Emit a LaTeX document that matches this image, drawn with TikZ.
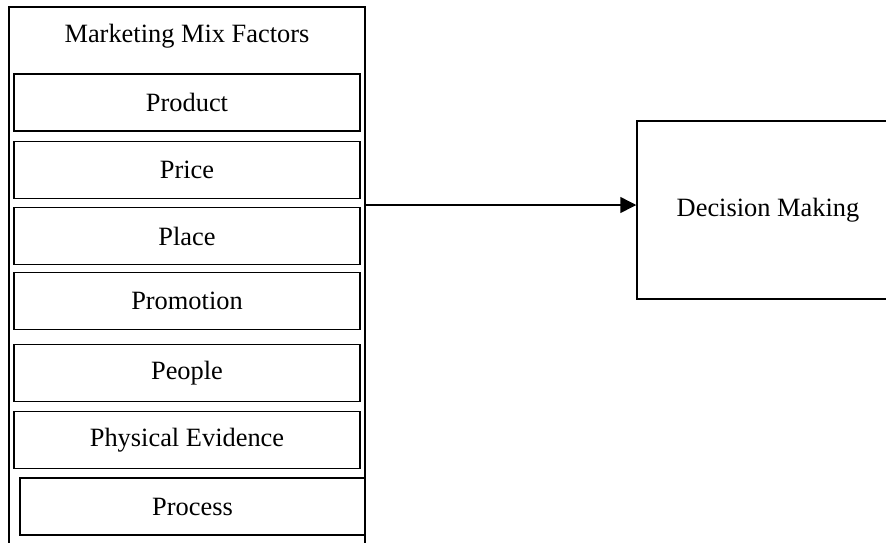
\documentclass[tikz,border=0pt]{standalone}
\usepackage{fontspec}
\setmainfont{Liberation Serif}
\usetikzlibrary{arrows.meta}

\begin{document}
\begin{tikzpicture}[x=0.5pt, y=-0.5pt, font=\fontsize{13.2}{16}\selectfont,
  frame/.style={draw=black, line width=0.75pt},
  factor/.style={draw=black, line width=0.75pt, minimum width=173pt,
                 minimum height=28.5pt, inner sep=0pt},
  title/.style={inner sep=0pt},
  arr/.style={draw=black, line width=0.75pt, -{Triangle[length=8pt, width=8pt]}}]

\useasboundingbox (0,0) rectangle (886,542);

% factors column
\draw[frame] (9,7) rectangle (365,560);
\node[title] (mixtitle) at (187,36) {Marketing Mix Factors};
\foreach \n/\y/\t in {product/102.5/Product, price/170/Price, place/236/Place,
                      promotion/301/Promotion, people/373/People,
                      physical/440/Physical Evidence}{
  \node[factor] (\n) at (187,\y) {\t};}
\node[factor, minimum width=172.5pt] (process) at (192.5,506.5) {Process};

% decision
\node[factor, minimum width=131pt, minimum height=89pt] (dm) at (768,210)
  {Decision Making};

\coordinate (mixout) at (365,205);
\draw[arr] (mixout) -- (mixout -| dm.west);

\end{tikzpicture}
\end{document}
